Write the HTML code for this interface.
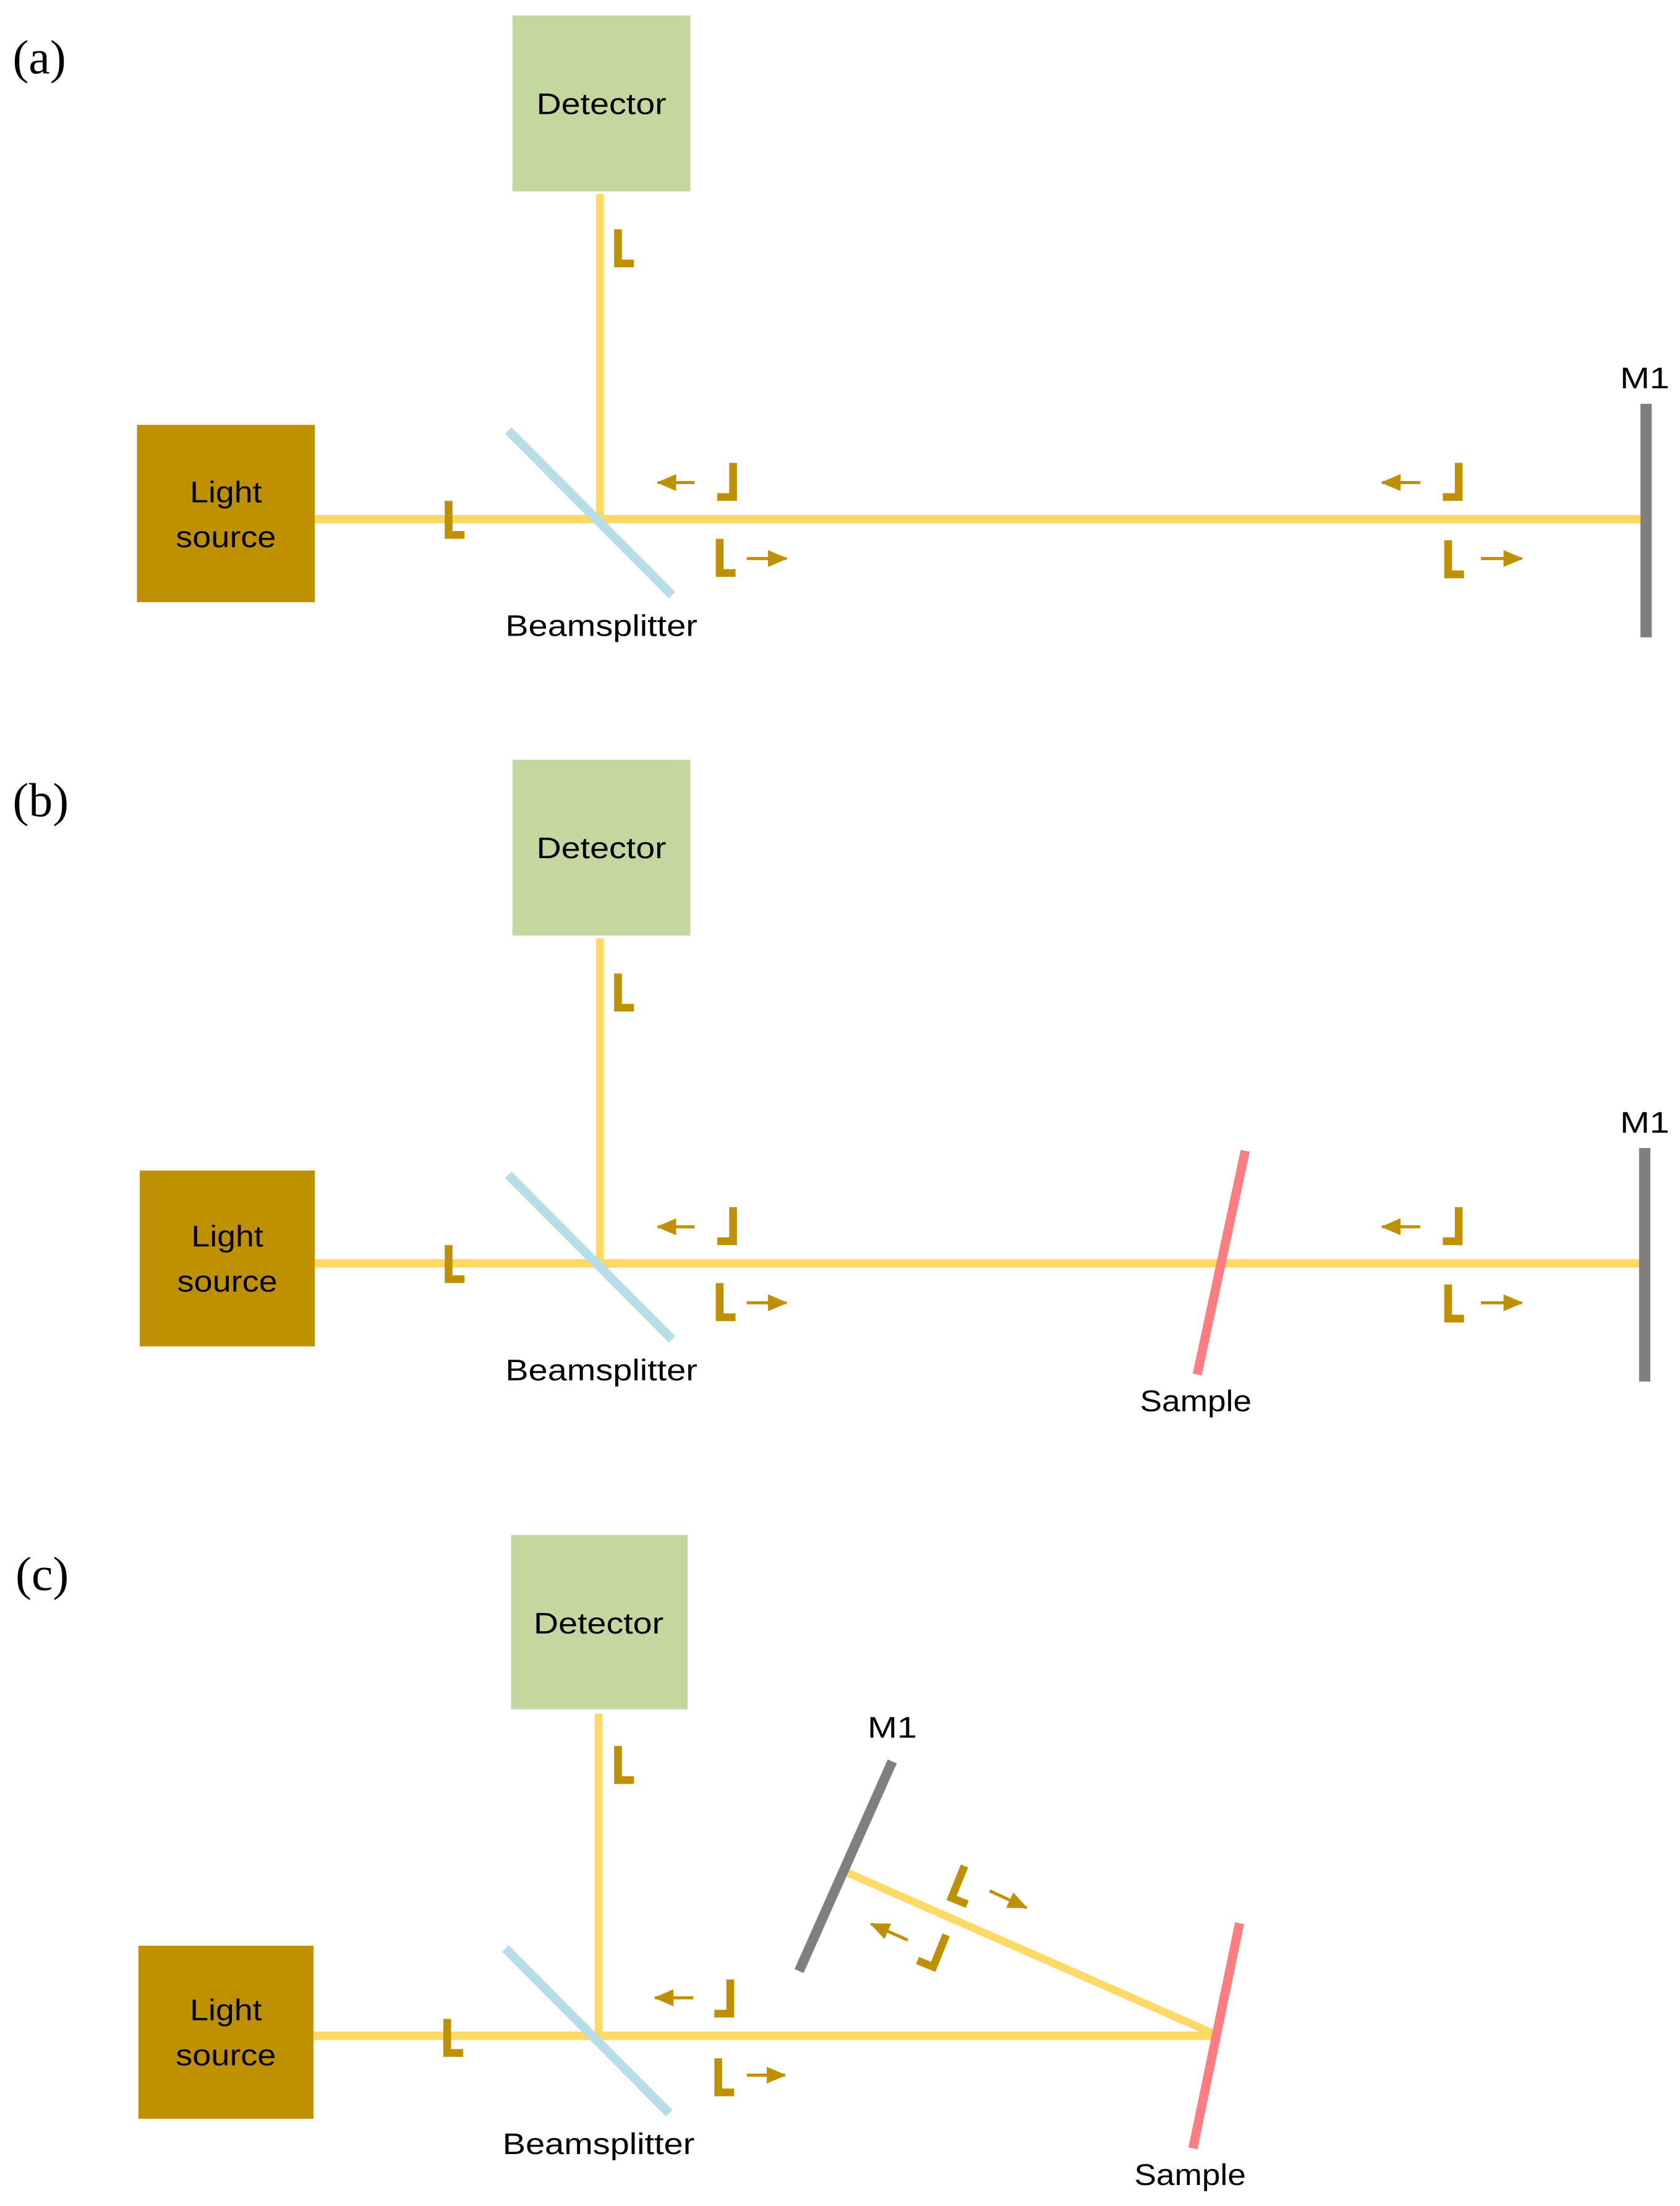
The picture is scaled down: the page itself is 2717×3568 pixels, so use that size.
<!DOCTYPE html>
<html><head><meta charset="utf-8"><style>
html,body{margin:0;padding:0;background:#fff;}
svg{display:block;}
text{font-family:"Liberation Sans",sans-serif;fill:#000;}
.t{font-family:"Liberation Serif",serif;font-size:34px;}
</style></head><body>
<svg width="2717" height="3568" viewBox="0 0 1190 1568" preserveAspectRatio="none" xmlns="http://www.w3.org/2000/svg">
<defs>
<marker id="ah" markerWidth="14" markerHeight="12" refX="13" refY="6" orient="auto" markerUnits="userSpaceOnUse"><path d="M0,0 L14,6 L0,12 z" fill="#bf9000"/></marker>
<g id="Lm"><path d="M2.75,0 V24.25 H14" fill="none" stroke="#bf9000" stroke-width="5.5"/></g>
<g id="Jm"><path d="M-2.75,0 V24.25 H-14" fill="none" stroke="#bf9000" stroke-width="5.5"/></g>
</defs>

<!-- Panel A -->
<g>
<text class="t" x="9" y="52">(a)</text>
<rect x="363" y="11" width="126" height="125" fill="#c4d79f"/>
<text x="426" y="81" font-size="21" text-anchor="middle" textLength="92" lengthAdjust="spacingAndGlyphs">Detector</text>
<line x1="425" y1="138" x2="425" y2="369" stroke="#ffd966" stroke-width="5.5"/>
<line x1="223" y1="369" x2="1162" y2="369" stroke="#ffd966" stroke-width="6"/>
<line x1="360" y1="306" x2="476" y2="423" stroke="#b7dde8" stroke-width="6.5"/>
<rect x="97" y="302" width="126" height="126" fill="#bf9000"/>
<text x="160" y="357" font-size="21" text-anchor="middle" textLength="51" lengthAdjust="spacingAndGlyphs">Light</text>
<text x="160" y="389" font-size="21" text-anchor="middle" textLength="71" lengthAdjust="spacingAndGlyphs">source</text>
<text x="426" y="452" font-size="21" text-anchor="middle" textLength="136" lengthAdjust="spacingAndGlyphs">Beamsplitter</text>
<rect x="1162" y="287" width="8" height="166" fill="#7f7f7f"/>
<text x="1165" y="276" font-size="21" text-anchor="middle" textLength="35" lengthAdjust="spacingAndGlyphs">M1</text>
<use href="#Lm" x="315" y="356"/>
<use href="#Lm" x="435" y="163"/>
<use href="#Jm" x="522" y="329"/>
<line x1="492" y1="343" x2="466" y2="343" stroke="#bf9000" stroke-width="2.2" marker-end="url(#ah)"/>
<use href="#Lm" x="507" y="383"/>
<line x1="529" y1="397" x2="557" y2="397" stroke="#bf9000" stroke-width="2.2" marker-end="url(#ah)"/>
<use href="#Jm" x="1036" y="329"/>
<line x1="1006" y1="343" x2="979" y2="343" stroke="#bf9000" stroke-width="2.2" marker-end="url(#ah)"/>
<use href="#Lm" x="1023" y="384"/>
<line x1="1049" y1="397" x2="1078" y2="397" stroke="#bf9000" stroke-width="2.2" marker-end="url(#ah)"/>
</g>

<!-- Panel B -->
<g transform="translate(0,529)">
<text class="t" x="9" y="51">(b)</text>
<rect x="363" y="11" width="126" height="125" fill="#c4d79f"/>
<text x="426" y="81" font-size="21" text-anchor="middle" textLength="92" lengthAdjust="spacingAndGlyphs">Detector</text>
<line x1="425" y1="138" x2="425" y2="369" stroke="#ffd966" stroke-width="5.5"/>
<line x1="223" y1="369" x2="1162" y2="369" stroke="#ffd966" stroke-width="6"/>
<line x1="360" y1="306" x2="476" y2="423" stroke="#b7dde8" stroke-width="6.5"/>
<rect x="99" y="303" width="124" height="125" fill="#bf9000"/>
<text x="161" y="357" font-size="21" text-anchor="middle" textLength="51" lengthAdjust="spacingAndGlyphs">Light</text>
<text x="161" y="389" font-size="21" text-anchor="middle" textLength="71" lengthAdjust="spacingAndGlyphs">source</text>
<text x="426" y="452" font-size="21" text-anchor="middle" textLength="136" lengthAdjust="spacingAndGlyphs">Beamsplitter</text>
<line x1="882" y1="289" x2="848" y2="448" stroke="#ff7c80" stroke-width="6.5"/>
<text x="847" y="474" font-size="21" text-anchor="middle" textLength="79" lengthAdjust="spacingAndGlyphs">Sample</text>
<rect x="1161" y="287" width="8" height="166" fill="#7f7f7f"/>
<text x="1165" y="276" font-size="21" text-anchor="middle" textLength="35" lengthAdjust="spacingAndGlyphs">M1</text>
<use href="#Lm" x="315" y="356"/>
<use href="#Lm" x="435" y="163"/>
<use href="#Jm" x="522" y="329"/>
<line x1="492" y1="343" x2="466" y2="343" stroke="#bf9000" stroke-width="2.2" marker-end="url(#ah)"/>
<use href="#Lm" x="507" y="383"/>
<line x1="529" y1="397" x2="557" y2="397" stroke="#bf9000" stroke-width="2.2" marker-end="url(#ah)"/>
<use href="#Jm" x="1036" y="329"/>
<line x1="1006" y1="343" x2="979" y2="343" stroke="#bf9000" stroke-width="2.2" marker-end="url(#ah)"/>
<use href="#Lm" x="1023" y="384"/>
<line x1="1049" y1="397" x2="1078" y2="397" stroke="#bf9000" stroke-width="2.2" marker-end="url(#ah)"/>
</g>

<!-- Panel C -->
<g>
<text class="t" x="11" y="1130">(c)</text>
<rect x="362" y="1091" width="125" height="124" fill="#c4d79f"/>
<text x="424" y="1161" font-size="21" text-anchor="middle" textLength="92" lengthAdjust="spacingAndGlyphs">Detector</text>
<line x1="424" y1="1218" x2="424" y2="1447" stroke="#ffd966" stroke-width="5.5"/>
<line x1="222" y1="1447" x2="863" y2="1447" stroke="#ffd966" stroke-width="6"/>
<line x1="600" y1="1331" x2="863" y2="1447" stroke="#ffd966" stroke-width="5.5"/>
<line x1="358" y1="1385" x2="474" y2="1502" stroke="#b7dde8" stroke-width="6.5"/>
<rect x="98" y="1383" width="124" height="123" fill="#bf9000"/>
<text x="160" y="1436" font-size="21" text-anchor="middle" textLength="51" lengthAdjust="spacingAndGlyphs">Light</text>
<text x="160" y="1468" font-size="21" text-anchor="middle" textLength="71" lengthAdjust="spacingAndGlyphs">source</text>
<text x="424" y="1531" font-size="21" text-anchor="middle" textLength="136" lengthAdjust="spacingAndGlyphs">Beamsplitter</text>
<line x1="878" y1="1367" x2="845" y2="1527" stroke="#ff7c80" stroke-width="6.5"/>
<text x="843" y="1553" font-size="21" text-anchor="middle" textLength="79" lengthAdjust="spacingAndGlyphs">Sample</text>
<line x1="632" y1="1252" x2="566" y2="1401" stroke="#7f7f7f" stroke-width="7"/>
<text x="632" y="1235" font-size="21" text-anchor="middle" textLength="35" lengthAdjust="spacingAndGlyphs">M1</text>
<use href="#Lm" x="314" y="1435"/>
<use href="#Lm" x="435" y="1241"/>
<use href="#Jm" x="520" y="1407"/>
<line x1="491" y1="1420" x2="464" y2="1420" stroke="#bf9000" stroke-width="2.2" marker-end="url(#ah)"/>
<use href="#Lm" x="506" y="1463"/>
<line x1="529" y1="1475" x2="556" y2="1475" stroke="#bf9000" stroke-width="2.2" marker-end="url(#ah)"/>
<g transform="translate(674,1349) rotate(22)"><path d="M0,-24.5 V0 H12" fill="none" stroke="#bf9000" stroke-width="5.5"/></g>
<line x1="701" y1="1344" x2="727" y2="1356" stroke="#bf9000" stroke-width="2.2" marker-end="url(#ah)"/>
<g transform="translate(661,1398) rotate(22)"><path d="M0,-24.5 V0 H-12" fill="none" stroke="#bf9000" stroke-width="5.5"/></g>
<line x1="643" y1="1379" x2="617" y2="1367.5" stroke="#bf9000" stroke-width="2.2" marker-end="url(#ah)"/>
</g>
</svg>
</body></html>
